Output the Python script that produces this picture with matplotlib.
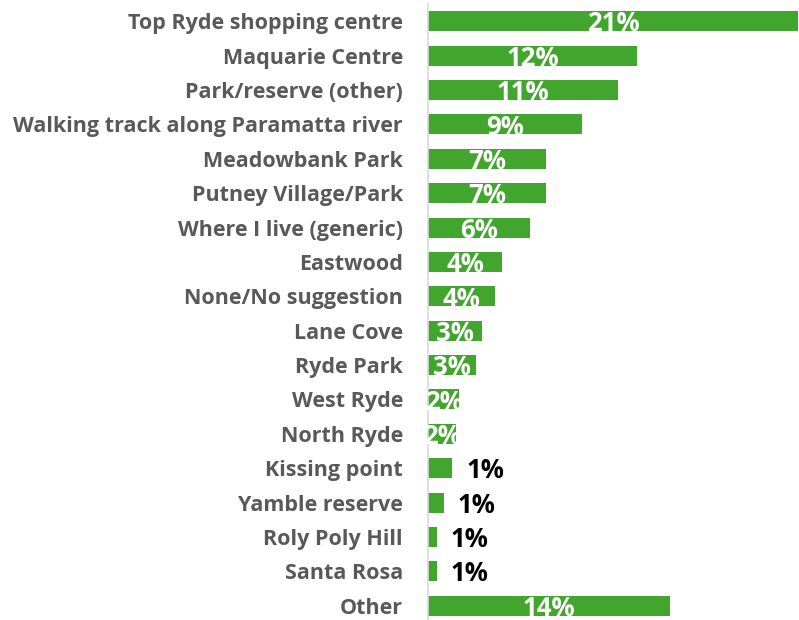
import matplotlib.pyplot as plt
import numpy as np

categories = ['Top Ryde shopping centre', 'Maquarie Centre', 'Park/reserve (other)',
              'Walking track along Paramatta river', 'Meadowbank Park', 'Putney Village/Park',
              'Where I live (generic)', 'Eastwood', 'None/No suggestion', 'Lane Cove',
              'Ryde Park', 'West Ryde', 'North Ryde', 'Kissing point', 'Yamble reserve',
              'Roly Poly Hill', 'Santa Rosa', 'Other']
values = [21.4, 12.1, 11.0, 8.9, 6.8, 6.8, 5.9, 4.3, 3.9, 3.1, 2.8, 1.8, 1.6, 1.4, 0.9, 0.5, 0.5, 14.0]
value_labels = ['21%', '12%', '11%', '9%', '7%', '7%', '6%', '4%', '4%', '3%', '3%', '2%', '2%',
                '1%', '1%', '1%', '1%', '14%']

GREEN = '#42a62e'
plt.rcParams['font.family'] = ['Open Sans', 'DejaVu Sans']

fig = plt.figure(figsize=(7.99, 6.20), dpi=100)
ax = fig.add_axes([428 / 799, -3 / 620, 371 / 799, 619 / 620])

y = np.arange(len(categories))
bars = ax.barh(y, values, height=0.58, color=GREEN)
ax.set_ylim(len(categories) - 0.5, -0.5)
ax.set_xlim(0, 21.45)

ax.set_yticks(y)
ax.set_yticklabels(categories, fontsize=15.5, fontweight='bold', color='#595959')
ax.tick_params(axis='y', length=0, pad=18)
ax.set_xticks([])
for side in ['top', 'right', 'bottom']:
    ax.spines[side].set_visible(False)
ax.spines['left'].set_color('#d9d9d9')
ax.spines['left'].set_linewidth(1.2)

for bar, v, lab in zip(bars, values, value_labels):
    cy = bar.get_y() + bar.get_height() / 2
    if v >= 1.5:
        t = ax.text(v / 2, cy + 0.08, lab, ha='center', va='center', fontsize=18.5,
                    fontweight='bold', color='white')
        t.set_clip_path(bar)
    else:
        ax.annotate(lab, (v, cy + 0.07), xytext=(10, 0), textcoords='offset points',
                    ha='left', va='center', fontsize=18.5, fontweight='bold', color='black')

fig.savefig('out.png', dpi=100)
